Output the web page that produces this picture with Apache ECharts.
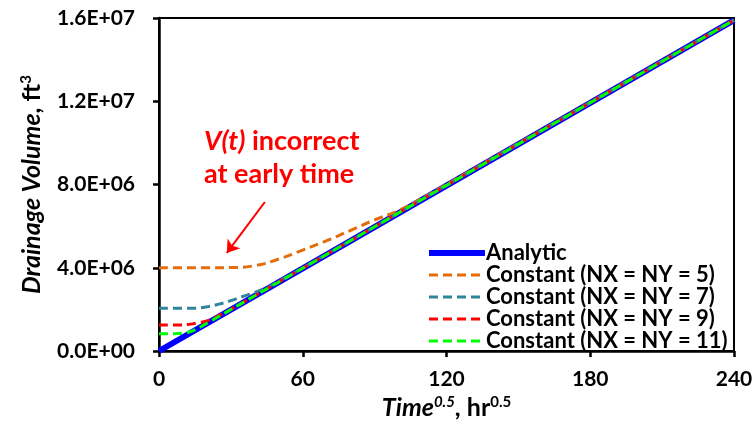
<!DOCTYPE html>
<html>
<head>
<meta charset="utf-8">
<script src="https://cdn.jsdelivr.net/npm/echarts@6/dist/echarts.min.js"></script>
<style>
  html, body { margin: 0; padding: 0; background: #fff; }
  #main { width: 756px; height: 434px; }
</style>
</head>
<body>
<div id="main"></div>
<script>
// data (time^0.5 in hr^0.5, volume in ft3)
var xTicks = [0, 60, 120, 180, 240];
var yTicks = [0, 4e6, 8e6, 1.2e7, 1.6e7];

var timeAna = [0, 60, 120, 180, 240];
var volAna = [0, 3.97e6, 7.95e6, 1.192e7, 1.59e7];

var time5 = [0, 10, 20, 30, 40, 50, 60, 70, 80, 90, 100, 110, 120, 160, 200, 240];
var vol5 = [4.0e6, 4.0e6, 4.0e6, 4.01e6, 4.1e6, 4.42e6, 4.85e6, 5.3e6, 5.8e6, 6.3e6, 6.75e6, 7.35e6, 8.0e6, 1.063e7, 1.327e7, 1.59e7];

var time7 = [0, 10, 15, 20, 25, 30, 35, 40, 45, 50, 60, 120, 240];
var vol7 = [2.05e6, 2.05e6, 2.06e6, 2.12e6, 2.25e6, 2.42e6, 2.62e6, 2.82e6, 3.05e6, 3.36e6, 3.99e6, 7.96e6, 1.59e7];

var time9 = [0, 8, 12, 16, 20, 25, 30, 60, 120, 240];
var vol9 = [1.25e6, 1.25e6, 1.27e6, 1.35e6, 1.45e6, 1.7e6, 2.0e6, 3.98e6, 7.96e6, 1.59e7];

var time11 = [0, 6, 10, 14, 18, 20, 60, 120, 240];
var vol11 = [0.83e6, 0.83e6, 0.86e6, 0.97e6, 1.2e6, 1.33e6, 3.98e6, 7.96e6, 1.59e7];

var names = ['Analytic', 'Constant (NX = NY = 5)', 'Constant (NX = NY = 7)',
             'Constant (NX = NY = 9)', 'Constant (NX = NY = 11)'];
var colors = ['#0000ff', '#e46c0a', '#31849b', '#ff0000', '#00ff00'];

function pairs(xs, ys) {
    var out = [];
    for (var i = 0; i < xs.length; i++) out.push([xs[i], ys[i]]);
    return out;
}

function sci(v) {
    if (v === 0) return '0.0E+00';
    var e = Math.floor(Math.log10(v));
    var m = v / Math.pow(10, e);
    return m.toFixed(1) + 'E+' + (e < 10 ? '0' + e : e);
}

var font = 'Lato, "Open Sans", sans-serif';
var fs = 21;   // tick labels
var ns = 25;   // axis names

var myChart = echarts.init(document.getElementById('main'));

function dashed(name, color, xs, ys) {
    return {
        name: name,
        type: 'line',
        smooth: true,
        symbol: 'none',
        data: pairs(xs, ys),
        lineStyle: { color: color, width: 3, type: [9, 5] },
        itemStyle: { color: color }
    };
}

var option = {
    animation: false,
    backgroundColor: '#fff',
    grid: {
        left: 159, right: 22, top: 18, bottom: 83,
        show: true, borderColor: '#000', borderWidth: 2
    },
    legend: {
        orient: 'vertical',
        left: 421,
        top: 237,
        itemWidth: 56,
        itemHeight: 14,
        itemGap: 0,
        data: names,
        itemStyle: { opacity: 0 },
        lineStyle: { width: 'inherit' },
        textStyle: { fontFamily: font, fontWeight: 'bold', fontSize: 22, lineHeight: 20, color: '#000', padding: [0, 0, 0, -4] }
    },
    xAxis: {
        type: 'value',
        min: 0, max: 240, interval: 60,
        splitLine: { show: false },
        axisLine: { lineStyle: { color: '#000', width: 2.5 } },
        axisTick: { inside: false, length: 6, lineStyle: { color: '#000', width: 2.5 } },
        axisLabel: { fontFamily: font, fontWeight: 'bold', fontSize: fs, color: '#000', margin: 18 },
        name: '{i|Time}{s|0.5}{n|, hr}{s2|0.5}',
        nameLocation: 'middle',
        nameGap: 44,
        nameTextStyle: {
            rich: {
                i: { fontFamily: font, fontWeight: 'bold', fontStyle: 'italic', fontSize: ns, color: '#000' },
                n: { fontFamily: font, fontWeight: 'bold', fontSize: ns, color: '#000' },
                s: { fontFamily: font, fontWeight: 'bold', fontStyle: 'italic', fontSize: 15, color: '#000', padding: [0, 0, 11, 0] },
                s2: { fontFamily: font, fontWeight: 'bold', fontSize: 15, color: '#000', padding: [0, 0, 11, 0] }
            }
        }
    },
    yAxis: {
        type: 'value',
        min: 0, max: 1.6e7, interval: 4e6,
        splitLine: { show: false },
        axisLine: { lineStyle: { color: '#000', width: 2.5 } },
        axisTick: { inside: false, length: 6, lineStyle: { color: '#000', width: 2.5 } },
        axisLabel: {
            fontFamily: font, fontWeight: 'bold', fontSize: fs, color: '#000', margin: 24,
            formatter: function (v) { return sci(v); }
        },
        name: '{i|Drainage Volume}{n|, ft}{s|3}',
        nameLocation: 'middle',
        nameRotate: 90,
        nameGap: 114,
        nameTextStyle: {
            rich: {
                i: { fontFamily: font, fontWeight: 'bold', fontStyle: 'italic', fontSize: ns, color: '#000' },
                n: { fontFamily: font, fontWeight: 'bold', fontSize: ns, color: '#000' },
                s: { fontFamily: font, fontWeight: 'bold', fontSize: 15, color: '#000', padding: [0, 0, 11, 0] }
            }
        }
    },
    graphic: [{
        type: 'text',
        left: 204,
        top: 125,
        style: {
            text: '{i|V(t)} incorrect\nat early time',
            fill: '#ff0000',
            font: 'bold 27px ' + font,
            lineHeight: 33,
            rich: {
                i: { fontFamily: font, fontWeight: 'bold', fontStyle: 'italic', fontSize: 27, fill: '#ff0000', lineHeight: 33 }
            }
        }
    }],
    series: [
        {
            name: names[0],
            type: 'line',
            symbol: 'none',
            data: pairs(timeAna, volAna),
            lineStyle: { color: colors[0], width: 6 },
            itemStyle: { color: colors[0] },
            markLine: {
                silent: true,
                symbol: ['none', 'arrow'],
                symbolSize: 12,
                label: { show: false },
                lineStyle: { color: '#ff0000', width: 2, type: 'solid' },
                data: [[{ coord: [44.2, 7.16e6] }, { coord: [28.3, 4.71e6] }]]
            }
        },
        dashed(names[1], colors[1], time5, vol5),
        dashed(names[2], colors[2], time7, vol7),
        dashed(names[3], colors[3], time9, vol9),
        dashed(names[4], colors[4], time11, vol11)
    ]
};

myChart.setOption(option);
</script>
</body>
</html>
